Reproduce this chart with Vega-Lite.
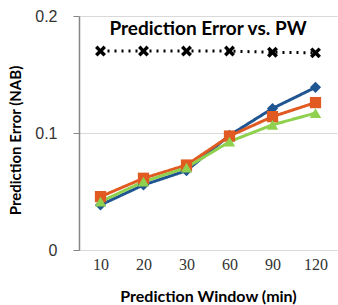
{
  "$schema": "https://vega.github.io/schema/vega-lite/v6.json",
  "width": 258,
  "height": 234,
  "autosize": {"type": "none"},
  "padding": {"left": 79, "top": 16, "right": 1, "bottom": 55},
  "background": "white",
  "title": {"text": "Prediction Error vs. PW", "font": "Lato", "fontSize": 19, "fontWeight": "bold", "color": "black", "offset": -31, "anchor": "middle"},
  "config": {"view": {"stroke": null}, "font": "Lato"},
  "data": {"values": [
    {"pw": "10", "s": "A", "v": 0.170}, {"pw": "20", "s": "A", "v": 0.170}, {"pw": "30", "s": "A", "v": 0.170}, {"pw": "60", "s": "A", "v": 0.170}, {"pw": "90", "s": "A", "v": 0.169}, {"pw": "120", "s": "A", "v": 0.1685},
    {"pw": "10", "s": "B", "v": 0.0385}, {"pw": "20", "s": "B", "v": 0.0556}, {"pw": "30", "s": "B", "v": 0.0678}, {"pw": "60", "s": "B", "v": 0.098}, {"pw": "90", "s": "B", "v": 0.121}, {"pw": "120", "s": "B", "v": 0.139},
    {"pw": "10", "s": "C", "v": 0.0456}, {"pw": "20", "s": "C", "v": 0.0613}, {"pw": "30", "s": "C", "v": 0.0726}, {"pw": "60", "s": "C", "v": 0.0974}, {"pw": "90", "s": "C", "v": 0.114}, {"pw": "120", "s": "C", "v": 0.126},
    {"pw": "10", "s": "D", "v": 0.0413}, {"pw": "20", "s": "D", "v": 0.0584}, {"pw": "30", "s": "D", "v": 0.0704}, {"pw": "60", "s": "D", "v": 0.0926}, {"pw": "90", "s": "D", "v": 0.107}, {"pw": "120", "s": "D", "v": 0.117}
  ]},
  "encoding": {
    "x": {"field": "pw", "type": "nominal", "sort": ["10", "20", "30", "60", "90", "120"],
      "scale": {"paddingInner": 0, "paddingOuter": 0.5},
      "axis": {"title": "Prediction Window (min)", "titleFont": "Lato", "titleFontSize": 16, "titleFontWeight": "bold", "titleColor": "black", "titlePadding": 16,
        "labelAngle": 0, "labelFont": "Liberation Sans Narrow", "labelFontSize": 16, "labelColor": "#333333", "labelPadding": 6,
        "ticks": false, "domainColor": "#D9D9D9", "domainWidth": 1, "grid": false}},
    "y": {"field": "v", "type": "quantitative", "scale": {"domain": [0, 0.2], "nice": false},
      "axis": {"title": "Prediction Error (NAB)", "titleFont": "Lato", "titleFontSize": 15, "titleFontWeight": "bold", "titleColor": "black", "titlePadding": 11, "titleY": 124,
        "values": [0, 0.1, 0.2], "labelFont": "Liberation Sans", "labelFontSize": 16, "labelColor": "#333333", "labelPadding": 16, "format": "~g",
        "tickSize": 6, "tickColor": "#868686", "domainColor": "#868686", "domainWidth": 1.5, "gridColor": "#D9D9D9", "gridWidth": 1.2}},
    "color": {"field": "s", "type": "nominal", "legend": null,
      "scale": {"domain": ["A", "B", "C", "D"], "range": ["#000000", "#1F5591", "#E05A22", "#8FD14F"]}}
  },
  "layer": [
    {"mark": {"type": "line", "strokeWidth": 3},
     "encoding": {"strokeDash": {"field": "s", "type": "nominal", "legend": null,
       "scale": {"domain": ["A", "B", "C", "D"], "range": [[2, 5], [1, 0], [1, 0], [1, 0]]}}}},
    {"mark": {"type": "point", "filled": true, "opacity": 1},
     "encoding": {
       "size": {"field": "s", "type": "nominal", "legend": null, "scale": {"domain": ["A", "B", "C", "D"], "range": [120, 130, 120, 130]}},
       "shape": {"field": "s", "type": "nominal", "legend": null,
       "scale": {"domain": ["A", "B", "C", "D"], "range": ["M-1,-0.55L-0.55,-1L0,-0.45L0.55,-1L1,-0.55L0.45,0L1,0.55L0.55,1L0,0.45L-0.55,1L-1,0.55L-0.45,0Z", "diamond", "square", "triangle-up"]}}}}
  ]
}
